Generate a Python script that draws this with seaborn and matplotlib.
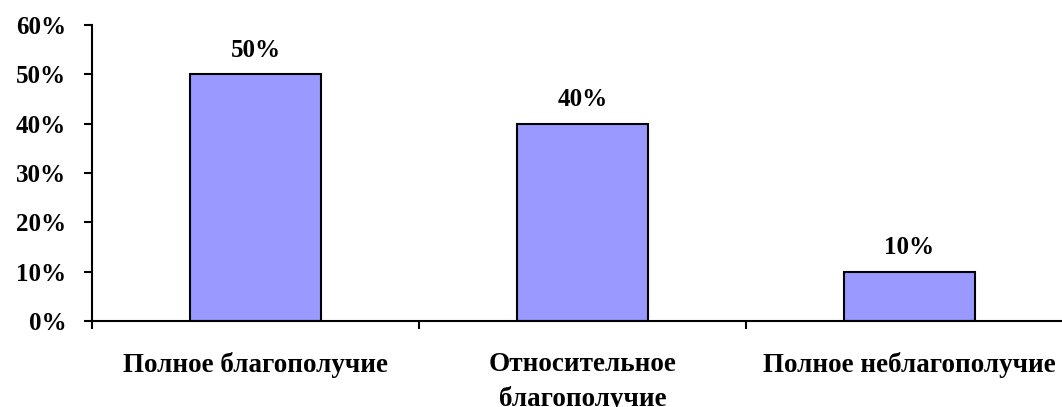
import matplotlib
matplotlib.use("Agg")
import matplotlib.pyplot as plt
import seaborn as sns
import pandas as pd
from matplotlib.ticker import FixedLocator, FuncFormatter

categories = ["Полное благополучие", "Относительное\nблагополучие", "Полное неблагополучие"]
shares = [50, 40, 10]
y_ticks = [0, 10, 20, 30, 40, 50, 60]

sns.set_style("white")
plt.rcParams["font.family"] = ["Liberation Serif", "DejaVu Serif"]
plt.rcParams["font.weight"] = "bold"
plt.rcParams["text.color"] = "black"
plt.rcParams["xtick.color"] = "black"
plt.rcParams["ytick.color"] = "black"

df = pd.DataFrame({"category": categories, "share": shares})

fig = plt.figure(figsize=(10.62, 4.07), dpi=100)
ax = fig.add_axes([92 / 1062, 86 / 407, 981 / 1062, 296 / 407])

sns.barplot(data=df, x="category", y="share", color="#9999ff", width=0.4,
            edgecolor="black", linewidth=1.5, saturation=1, ax=ax)

ax.set_xlim(-0.5, 2.5)
ax.set_ylim(0, 60)
ax.set_yticks(y_ticks)
ax.yaxis.set_major_formatter(FuncFormatter(lambda v, _: f"{v:.0f}%"))
ax.set_xlabel("")
ax.set_ylabel("")

for side in ("top", "right"):
    ax.spines[side].set_visible(False)
for side in ("left", "bottom"):
    ax.spines[side].set_linewidth(1.5)
    ax.spines[side].set_color("black")

ax.tick_params(axis="y", direction="out", length=6, width=1.5, pad=12.5,
               labelsize=18, left=True, labelcolor="black")
ax.tick_params(axis="x", which="major", length=0, pad=22.5, labelsize=19.5,
               labelcolor="black")
ax.xaxis.set_minor_locator(FixedLocator([-0.5, 0.5, 1.5]))
ax.tick_params(axis="x", which="minor", direction="out", length=6, width=1.5,
               bottom=True)
for lbl in ax.get_xticklabels():
    lbl.set_linespacing(1.45)
    lbl.set_fontweight("bold")

ax.bar_label(ax.containers[0], labels=[f"{v}%" for v in shares],
             padding=9, fontsize=18, fontweight="bold", color="black")

fig.savefig("out.png", dpi=100)
